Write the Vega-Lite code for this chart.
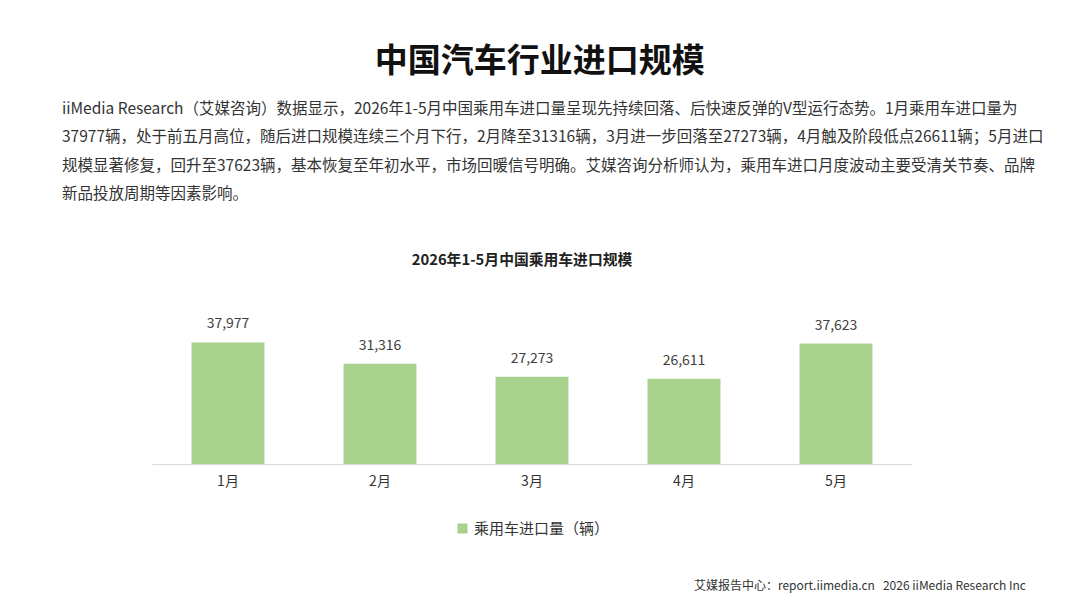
{
  "$schema": "https://vega.github.io/schema/vega-lite/v6.json",
  "background": "#ffffff",
  "padding": {"left": 62, "top": 45, "right": 20, "bottom": 10},
  "config": {
    "font": "Noto Sans CJK SC",
    "view": {"stroke": null},
    "concat": {"spacing": 0}
  },
  "title": {
    "text": "中国汽车行业进口规模",
    "anchor": "middle",
    "dx": -13,
    "fontSize": 33,
    "fontWeight": "bold",
    "color": "#111111",
    "offset": 23
  },
  "resolve": {"legend": {"color": "independent"}},
  "vconcat": [
    {
      "title": {
        "text": [
          "iiMedia Research（艾媒咨询）数据显示，2026年1-5月中国乘用车进口量呈现先持续回落、后快速反弹的V型运行态势。1月乘用车进口量为",
          "37977辆，处于前五月高位，随后进口规模连续三个月下行，2月降至31316辆，3月进一步回落至27273辆，4月触及阶段低点26611辆；5月进口",
          "规模显著修复，回升至37623辆，基本恢复至年初水平，市场回暖信号明确。艾媒咨询分析师认为，乘用车进口月度波动主要受清关节奏、品牌",
          "新品投放周期等因素影响。"
        ],
        "anchor": "start",
        "dx": -90,
        "fontSize": 15.5,
        "fontWeight": "normal",
        "lineHeight": 28.5,
        "color": "#333333",
        "offset": 50
      },
      "resolve": {"legend": {"color": "independent"}},
      "vconcat": [
        {
          "title": {
            "text": "艾媒报告中心：report.iimedia.cn\u00a0\u00a0\u00a02026 iiMedia Research Inc",
            "orient": "bottom",
            "anchor": "end",
            "dx": 114,
            "fontSize": 12,
            "fontWeight": "normal",
            "color": "#333333",
            "offset": 44
          },
          "resolve": {"legend": {"color": "independent"}},
          "vconcat": [
            {
              "title": {
                "text": "2026年1-5月中国乘用车进口规模",
                "anchor": "middle",
                "dx": -10,
                "fontSize": 14.8,
                "fontWeight": "bold",
                "color": "#222222",
                "offset": 50
              },
              "width": 760,
              "height": 128,
              "data": {
                "values": [
                  {"month": "1月", "value": 37977, "series": "乘用车进口量（辆）"},
                  {"month": "2月", "value": 31316, "series": "乘用车进口量（辆）"},
                  {"month": "3月", "value": 27273, "series": "乘用车进口量（辆）"},
                  {"month": "4月", "value": 26611, "series": "乘用车进口量（辆）"},
                  {"month": "5月", "value": 37623, "series": "乘用车进口量（辆）"}
                ]
              },
              "encoding": {
                "x": {
                  "field": "month",
                  "type": "nominal",
                  "sort": null,
                  "scale": {"paddingInner": 0.52, "paddingOuter": 0.26},
                  "axis": {
                    "title": null,
                    "labelAngle": 0,
                    "labelFontSize": 14,
                    "labelColor": "#333333",
                    "labelPadding": 10,
                    "domainColor": "#d9d9d9",
                    "ticks": false
                  }
                },
                "y": {
                  "field": "value",
                  "type": "quantitative",
                  "scale": {"domain": [0, 40000]},
                  "axis": null
                }
              },
              "layer": [
                {
                  "mark": {"type": "bar", "color": "#a9d18e"},
                  "encoding": {
                    "color": {
                      "field": "series",
                      "type": "nominal",
                      "scale": {"range": ["#a9d18e"]},
                      "legend": {
                        "title": null,
                        "orient": "none",
                        "legendX": 303,
                        "legendY": 185,
                        "symbolType": "square",
                        "symbolSize": 100,
                        "symbolStrokeWidth": 0,
                        "labelFontSize": 15,
                        "labelColor": "#333333"
                      }
                    }
                  }
                },
                {
                  "mark": {"type": "text", "dy": -18, "fontSize": 14, "color": "#404040"},
                  "encoding": {
                    "text": {"field": "value", "type": "quantitative", "format": ","}
                  }
                }
              ]
            }
          ]
        }
      ]
    }
  ]
}
